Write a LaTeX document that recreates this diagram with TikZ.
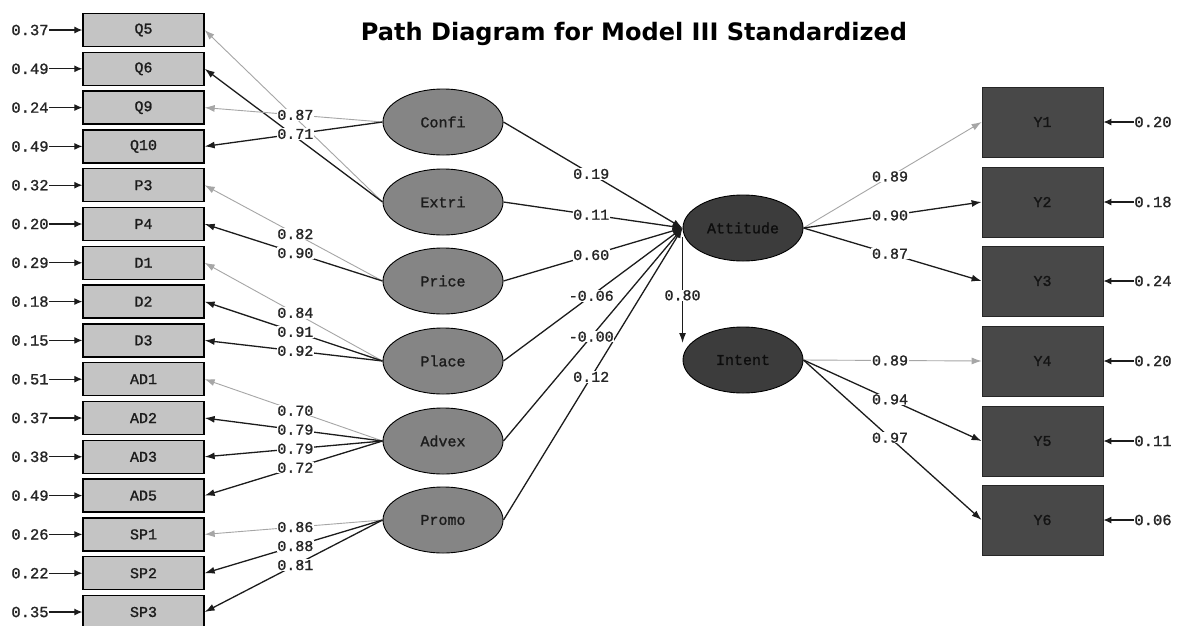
\documentclass[tikz,border=0pt]{standalone}
\usepackage{fontspec}
\usepackage{graphicx}
\usetikzlibrary{shapes.geometric,arrows.meta}
\newfontfamily\monofont{Liberation Mono}[FakeBold=1.2]
\newfontfamily\titlefont{DejaVu Sans}

\definecolor{obsfill}{HTML}{C4C4C4}
\definecolor{exofill}{HTML}{858585}
\definecolor{endofill}{HTML}{3C3C3C}
\definecolor{yfill}{HTML}{484848}
\definecolor{refgray}{HTML}{A6A6A6}
\definecolor{inkdark}{HTML}{1C1C1C}

\tikzset{
  obsbox/.style={rectangle, draw=black, line width=1.3pt, fill=obsfill,
    minimum width=121pt, minimum height=33pt, inner sep=0pt,
    font=\monofont\fontsize{15}{15}\selectfont, text=inkdark},
  ybox/.style={rectangle, draw=black!85, line width=0.8pt, fill=yfill,
    minimum width=121pt, minimum height=70pt, inner sep=0pt,
    font=\monofont\fontsize{15}{15}\selectfont, text=black!92},
  exo/.style={ellipse, draw=black, line width=0.9pt, fill=exofill,
    minimum width=120pt, minimum height=66pt, inner sep=0pt,
    font=\monofont\fontsize{15}{15}\selectfont, text=inkdark},
  endo/.style={exo, fill=endofill, text=black!95},
  coef/.style={fill=white, inner sep=0.6pt,
    font=\monofont\fontsize{15}{15}\selectfont, text=black!85},
  errlab/.style={inner sep=0pt, font=\monofont\fontsize{15.5}{15.5}\selectfont, text=black!85},
  refpath/.style={draw=refgray, line width=0.9pt, -{Latex[length=10pt,width=7pt]}},
  estpath/.style={draw=inkdark, line width=1.3pt, -{Latex[length=10pt,width=7pt]}},
  errpath/.style={draw=inkdark, line width=1.2pt, -{Latex[length=8pt,width=7pt]}},
}

\begin{document}
\begin{tikzpicture}[x=1pt,y=-1pt]
\useasboundingbox[fill=white] (0,0) rectangle (1178,625);

% title
\node[anchor=base, font=\titlefont\bfseries, text=black] (title) at (634,40)
  {\resizebox{546pt}{!}{Path Diagram for Model III Standardized}};

% observed indicators of the exogenous constructs, with their error variances
\foreach \n/\i/\e in {Q5/0/0.37, Q6/1/0.49, Q9/2/0.24, Q10/3/0.49, P3/4/0.32,
    P4/5/0.20, D1/6/0.29, D2/7/0.18, D3/8/0.15, AD1/9/0.51, AD2/10/0.37,
    AD3/11/0.38, AD5/12/0.49, SP1/13/0.26, SP2/14/0.22, SP3/15/0.35} {
  \node[obsbox] (\n) at (143.5,{30+38.8*\i}) {\n};
  \node[errlab] (e\n) at (30,{30+38.8*\i}) {\e};
  \draw[errpath] (e\n.east) -- (\n.west);
}

% exogenous latent variables
\node[exo] (Confi) at (443,122) {Confi};
\node[exo] (Extri) at (443,202) {Extri};
\node[exo] (Price) at (443,281) {Price};
\node[exo] (Place) at (443,361) {Place};
\node[exo] (Advex) at (443,441) {Advex};
\node[exo] (Promo) at (443,520) {Promo};

% endogenous latent variables
\node[endo] (Att) at (743,228) {Attitude};
\node[endo] (Int) at (743,360) {Intent};

% observed indicators of the endogenous constructs
\foreach \n/\y/\e in {Y1/122/0.20, Y2/202/0.18, Y3/281/0.24,
    Y4/361/0.20, Y5/441/0.11, Y6/520/0.06} {
  \node[ybox] (\n) at (1042.5,\y) {\n};
  \node[errlab] (e\n) at (1153,\y) {\e};
  \draw[errpath] (e\n.west) -- (\n.east);
}

% measurement paths (left)
\draw[refpath] (Extri.west) -- (Q5.east);
\draw[estpath] (Extri.west) -- (Q6.east);
\draw[refpath] (Confi.west) -- node[coef,pos=.49] {0.87} (Q9.east);
\draw[estpath] (Confi.west) -- node[coef,pos=.49] {0.71} (Q10.east);

\draw[refpath] (Price.west) -- node[coef,pos=.49] {0.82} (P3.east);
\draw[estpath] (Price.west) -- node[coef,pos=.49] {0.90} (P4.east);

\draw[refpath] (Place.west) -- node[coef,pos=.49] {0.84} (D1.east);
\draw[estpath] (Place.west) -- node[coef,pos=.49] {0.91} (D2.east);
\draw[estpath] (Place.west) -- node[coef,pos=.49] {0.92} (D3.east);

\draw[refpath] (Advex.west) -- node[coef,pos=.49] {0.70} (AD1.east);
\draw[estpath] (Advex.west) -- node[coef,pos=.49] {0.79} (AD2.east);
\draw[estpath] (Advex.west) -- node[coef,pos=.49] {0.79} (AD3.east);
\draw[estpath] (Advex.west) -- node[coef,pos=.49] {0.72} (AD5.east);

\draw[refpath] (Promo.west) -- node[coef,pos=.49] {0.86} (SP1.east);
\draw[estpath] (Promo.west) -- node[coef,pos=.49] {0.88} (SP2.east);
\draw[estpath] (Promo.west) -- node[coef,pos=.49] {0.81} (SP3.east);

% structural paths
\draw[estpath] (Promo.east) -- node[coef,pos=.49] {0.12} (Att.west);
\draw[estpath] (Advex.east) -- node[coef,pos=.49] {-0.00} (Att.west);
\draw[estpath] (Place.east) -- node[coef,pos=.49] {-0.06} (Att.west);
\draw[estpath] (Price.east) -- node[coef,pos=.49] {0.60} (Att.west);
\draw[estpath] (Extri.east) -- node[coef,pos=.49] {0.11} (Att.west);
\draw[estpath] (Confi.east) -- node[coef,pos=.49] {0.19} (Att.west);
\draw[estpath] ([yshift=-9pt]Att.west) -- node[coef,pos=.55] {0.80} ([yshift=17pt]Int.west);

% measurement paths (right)
\draw[refpath] (Att.east) -- node[coef,pos=.486] {0.89} (Y1.west);
\draw[estpath] (Att.east) -- node[coef,pos=.486] {0.90} (Y2.west);
\draw[estpath] (Att.east) -- node[coef,pos=.486] {0.87} (Y3.west);
\draw[refpath] (Int.east) -- node[coef,pos=.486] {0.89} (Y4.west);
\draw[estpath] (Int.east) -- node[coef,pos=.486] {0.94} (Y5.west);
\draw[estpath] (Int.east) -- node[coef,pos=.486] {0.97} (Y6.west);
\end{tikzpicture}
\end{document}
